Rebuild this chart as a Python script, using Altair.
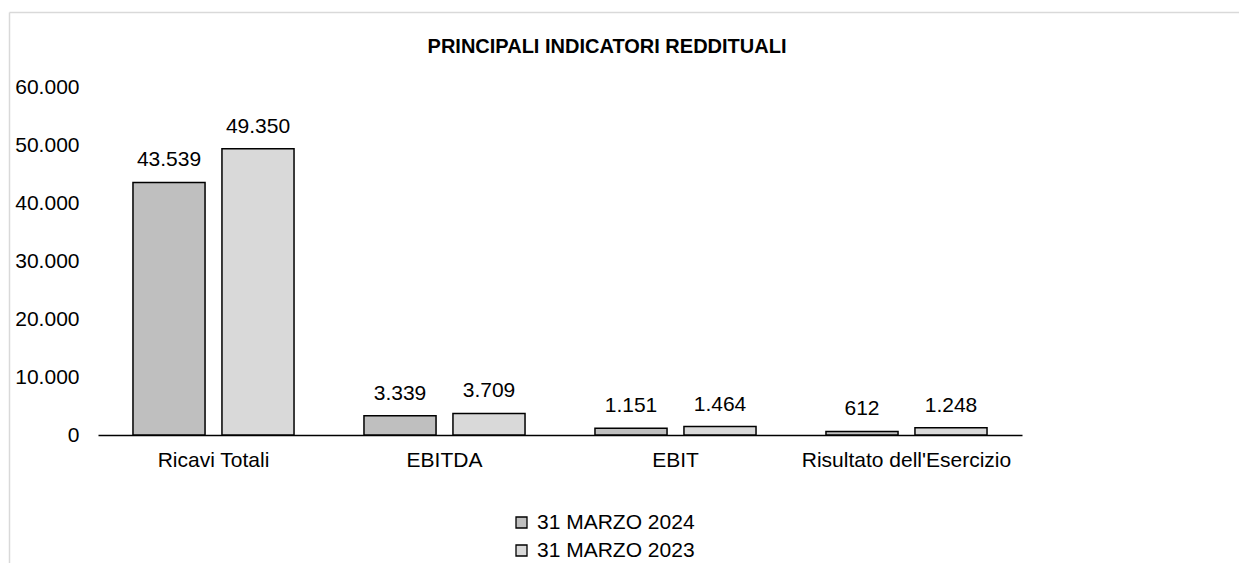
import altair as alt
import pandas as pd

categories = ["Ricavi Totali", "EBITDA", "EBIT", "Risultato dell'Esercizio"]
series_names = ["31 MARZO 2024", "31 MARZO 2023"]
values_2024 = [43539, 3339, 1151, 612]
values_2023 = [49350, 3709, 1464, 1248]
y_ticks = [0, 10000, 20000, 30000, 40000, 50000, 60000]
colors = ["#bfbfbf", "#d9d9d9"]

rows = []
for i, c in enumerate(categories):
    rows.append({"cat": c, "serie": series_names[0], "val": values_2024[i]})
    rows.append({"cat": c, "serie": series_names[1], "val": values_2023[i]})
df = pd.DataFrame(rows)

FONT = "Liberation Sans"
fmt = "replace(format(datum.val, ','), ',', '.')"

x = alt.X("cat:N", sort=categories,
          scale=alt.Scale(paddingInner=0, paddingOuter=0),
          axis=alt.Axis(title=None, labelAngle=0, ticks=False, domainColor="black",
                        domainWidth=1.5, labelFontSize=21, labelColor="black",
                        labelPadding=14, labelFont=FONT, labelLimit=0))
xo = alt.XOffset("serie:N", sort=series_names,
                 scale=alt.Scale(paddingInner=0.19, paddingOuter=0.393))
y = alt.Y("val:Q", scale=alt.Scale(domain=[0, 60000], nice=False),
          axis=alt.Axis(title=None, values=y_ticks,
                        labelExpr="replace(format(datum.value, ','), ',', '.')",
                        domain=False, ticks=False, grid=False, labelFontSize=21,
                        labelPadding=19, labelColor="black", labelFont=FONT))
color = alt.Color("serie:N", sort=series_names,
                  scale=alt.Scale(domain=series_names, range=colors),
                  legend=alt.Legend(title=None, orient="none", legendX=413, legendY=425,
                                    symbolType="square", symbolSize=121,
                                    symbolStrokeColor="black", symbolStrokeWidth=1.3,
                                    labelFontSize=21, labelFont=FONT, labelColor="black",
                                    labelOffset=5, rowPadding=6, labelLimit=0))

base = alt.Chart(df)
bars = base.mark_bar(stroke="black", strokeWidth=1.5).encode(x=x, xOffset=xo, y=y, color=color)
labels = base.transform_calculate(lab=fmt).mark_text(
    dy=-16, baseline="alphabetic", fontSize=21, font=FONT, color="black"
).encode(x=x, xOffset=xo, y=y, text="lab:N")

one = pd.DataFrame({"a": [0]})
frame_top = alt.Chart(one).mark_rule(color="#d9d9d9", strokeWidth=1.5).encode(
    x=alt.value(-88.5), x2=alt.value(1200), y=alt.value(-74.5))
frame_left = alt.Chart(one).mark_rule(color="#d9d9d9", strokeWidth=1.5).encode(
    x=alt.value(-88.5), y=alt.value(-74.5), y2=alt.value(480))

chart = alt.layer(frame_top, frame_left, bars, labels).properties(
    width=924, height=348,
    background="white",
    padding={"left": 90, "top": 79, "right": 217, "bottom": 128},
    autosize=alt.AutoSizeParams(type="none"),
    title=alt.TitleParams("PRINCIPALI INDICATORI REDDITUALI", font=FONT, fontSize=20,
                          fontWeight="bold", color="black", anchor="middle", dx=47,
                          offset=-61, baseline="alphabetic", frame="group"),
).configure_view(strokeWidth=0, stroke="transparent")

chart.save("out.html", embed_options={"renderer": "svg", "actions": False})
